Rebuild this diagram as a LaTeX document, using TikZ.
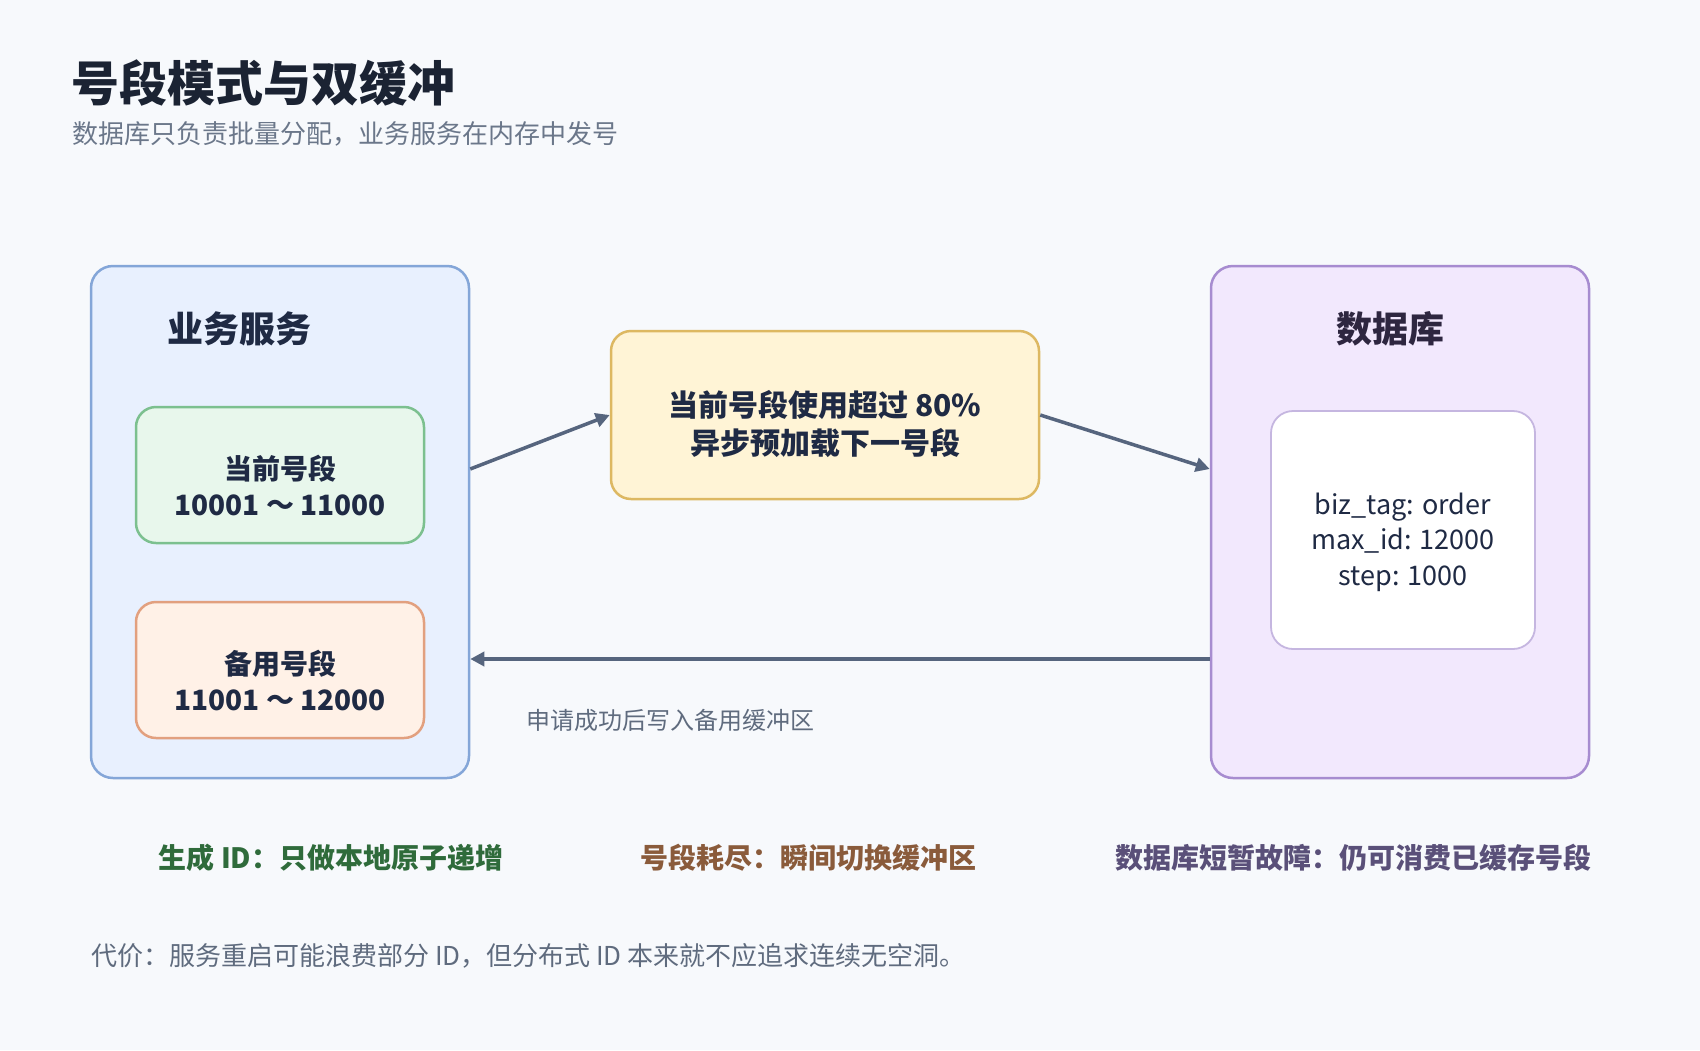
\documentclass[tikz,border=0pt]{standalone}
\usepackage{fontspec}
\setmainfont{Noto Sans CJK SC}
\usetikzlibrary{arrows.meta,calc}
\definecolor{bgc}{HTML}{F7F9FC}
\definecolor{titlec}{HTML}{1B2333}
\definecolor{subc}{HTML}{6B778A}
\definecolor{navy}{HTML}{1F2A44}
\definecolor{bluefill}{HTML}{E8F0FE}
\definecolor{blueline}{HTML}{84A6D8}
\definecolor{greenfill}{HTML}{E8F7EC}
\definecolor{greenline}{HTML}{7CC08F}
\definecolor{orfill}{HTML}{FFF1E7}
\definecolor{orline}{HTML}{E2A07F}
\definecolor{yelfill}{HTML}{FFF4D6}
\definecolor{yelline}{HTML}{DDB862}
\definecolor{purfill}{HTML}{F2E8FD}
\definecolor{purline}{HTML}{A78CD0}
\definecolor{whiteline}{HTML}{C5B6E0}
\definecolor{dbtext}{HTML}{2E2640}
\definecolor{arrowc}{HTML}{56657E}
\definecolor{greentext}{HTML}{2F6B3B}
\definecolor{browntext}{HTML}{8A5B3B}
\definecolor{purtext}{HTML}{5A5079}
\definecolor{footc}{HTML}{5F6B7E}
\tikzset{
  bigbox/.style={draw, line width=2.5pt, rounded corners=22pt, anchor=center},
  smallbox/.style={draw, line width=2.5pt, rounded corners=20pt, anchor=center},
  boxtext/.style={align=center, text=navy, font=\fontsize{28}{36}\selectfont\bfseries, anchor=center},
  conn/.style={draw=arrowc, line width=3.5pt, -{Triangle[length=14pt,width=14pt]}},
  botlabel/.style={font=\fontsize{28}{34}\selectfont\bfseries, anchor=center}
}
\begin{document}
\begin{tikzpicture}[x=1pt,y=-1pt]
\fill[bgc] (0,0) rectangle (1700,1050);
\useasboundingbox (0,0) rectangle (1700,1050);

\node[anchor=west, text=titlec, font=\fontsize{48}{56}\selectfont\bfseries, inner sep=0pt] (title) at (71,83) {号段模式与双缓冲};
\node[anchor=west, text=subc, font=\fontsize{26}{32}\selectfont, inner sep=0pt] (sub) at (72,134) {数据库只负责批量分配，业务服务在内存中发号};

% left container
\node[bigbox, fill=bluefill, draw=blueline, minimum width=378pt, minimum height=512pt] (lbox) at (280,522) {};
\node[text=navy, font=\fontsize{36}{42}\selectfont\bfseries] (ltitle) at (239,329) {业务服务};
\node[smallbox, fill=greenfill, draw=greenline, minimum width=288pt, minimum height=136pt] (cur) at (280,475) {};
\node[boxtext] (curtext) at (280,485) {当前号段\\10001 ～ 11000};
\node[smallbox, fill=orfill, draw=orline, minimum width=288pt, minimum height=136pt] (bak) at (280,670) {};
\node[boxtext] (baktext) at (280,680) {备用号段\\11001 ～ 12000};

% middle
\node[smallbox, fill=yelfill, draw=yelline, minimum width=428pt, minimum height=168pt] (mid) at (825,415) {};
\node[boxtext, font=\fontsize{30}{38}\selectfont\bfseries] (midtext) at (825,424) {当前号段使用超过 80\%\\异步预加载下一号段};

% right container
\node[bigbox, fill=purfill, draw=purline, minimum width=378pt, minimum height=512pt] (rbox) at (1400,522) {};
\node[text=dbtext, font=\fontsize{36}{42}\selectfont\bfseries] (rtitle) at (1390,329) {数据库};
\node[draw=whiteline, fill=white, line width=1.8pt, rounded corners=22pt, minimum width=264pt, minimum height=238pt] (rec) at (1403,530) {};
\node[align=center, text=navy, font=\fontsize{27}{35.5}\selectfont] (rectext) at (1403,542) {biz\_tag: order\\max\_id: 12000\\step: 1000};

% connectors
\draw[conn] ([yshift=53pt]lbox.east) -- (mid.west);
\draw[conn] (mid.east) -- ([yshift=53pt]rbox.west);
\draw[conn] ([yshift=-137pt]rbox.west) -- ([yshift=-137pt]lbox.east);
\node[text=footc, font=\fontsize{24}{28}\selectfont, anchor=west, inner sep=0pt] (retlabel) at (526,720) {申请成功后写入备用缓冲区};

% bottom labels
\node[botlabel, text=greentext] (b1) at (331,858) {生成 ID：只做本地原子递增};
\node[botlabel, text=browntext] (b2) at (808,858) {号段耗尽：瞬间切换缓冲区};
\node[botlabel, text=purtext] (b3) at (1353,858) {数据库短暂故障：仍可消费已缓存号段};

\node[anchor=west, text=footc, font=\fontsize{26}{30}\selectfont, inner sep=0pt] (foot) at (91,956) {代价：服务重启可能浪费部分 ID，但分布式 ID 本来就不应追求连续无空洞。};
\end{tikzpicture}
\end{document}
